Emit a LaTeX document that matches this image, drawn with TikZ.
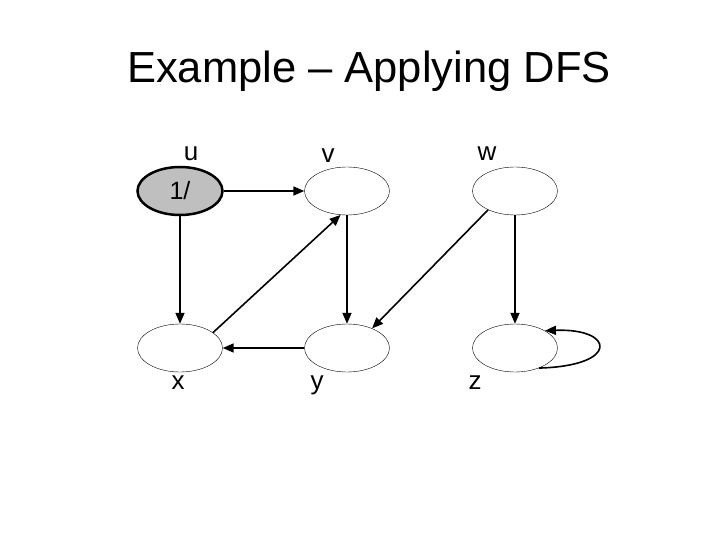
\documentclass[tikz,border=0pt]{standalone}
\usepackage{fontspec}
\setmainfont{Liberation Sans}
\usetikzlibrary{shapes.geometric,arrows.meta}

\tikzset{
  vertex/.style={ellipse, draw, thin, minimum width=85pt, minimum height=48pt, inner sep=0pt, font=\fontsize{25}{27}\selectfont},
  edge/.style={line width=1.6pt, -{Triangle[length=11pt,width=9pt]}},
  lbl/.style={font=\fontsize{26}{28}\selectfont}
}

\begin{document}
\begin{tikzpicture}[x=1pt, y=-1pt]
  \useasboundingbox (0,0) rectangle (720,540);
  \node[font=\fontsize{43.5}{48}\selectfont] (title) at (369,71) {Example -- Applying DFS};

  % vertices
  \node[vertex, fill=black!25, line width=2.5pt] (u) at (180,191) {1/};
  \node[vertex] (v) at (347,191) {};
  \node[vertex] (w) at (515,191) {};
  \node[vertex] (x) at (180,348) {};
  \node[vertex] (y) at (347,348) {};
  \node[vertex] (z) at (515,348) {};

  % labels
  \node[lbl] (ul) at (191,154) {u};
  \node[lbl] (vl) at (328,156) {v};
  \node[lbl] (wl) at (487,154) {w};
  \node[lbl] (xl) at (178,383) {x};
  \node[lbl] (yl) at (317,385) {y};
  \node[lbl] (zl) at (475,383) {z};

  % edges
  \draw[edge] (u) -- (v);
  \draw[edge] (u) -- (x);
  \draw[edge] (x.25) -- (v.-105);
  \draw[edge] (v) -- (y);
  \draw[edge] (y) -- (x);
  \draw[edge] (w.-145) -- (y.38);
  \draw[edge] (w) -- (z);
  \draw[edge] (z.-40) .. controls (620,366) and (615,328) .. (z.30);
\end{tikzpicture}
\end{document}
